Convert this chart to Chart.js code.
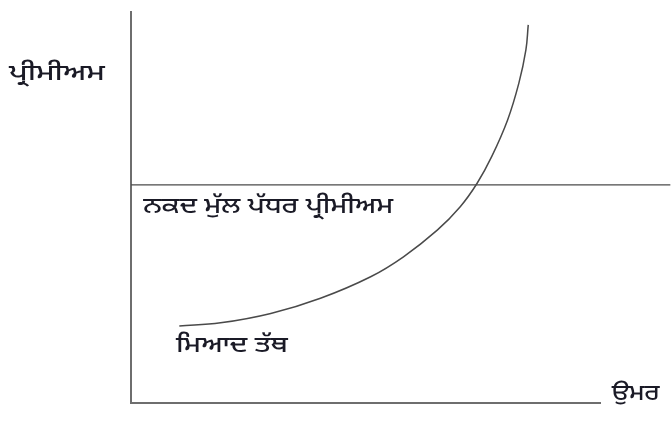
<!DOCTYPE html>
<html>
<head>
<meta charset="utf-8">
<script src="https://cdn.jsdelivr.net/npm/chart.js@4"></script>
<style>
  html, body { margin: 0; padding: 0; background: #fff; }
  #wrap { width: 672px; height: 421px; }
</style>
</head>
<body>
<div id="wrap"><canvas id="chart"></canvas></div>
<script>
// term premium curve (age -> premium)
const curveAge = [10.3, 19.1, 29.8, 40.4, 51.1, 58.1, 65.3, 70.2, 73.8, 76.9, 80.3, 82.7, 84.2, 84.7]
const curvePremium = [19.7, 20.5, 22.9, 26.8, 32.3, 37.4, 44.2, 50.2, 56.2, 63.0, 72.4, 81.8, 90.3, 96.7]

// cash value level premium (runs past the end of the age axis)
const levelAge = [0, 115]
const levelPremium = [55.8, 55.8]

// axis ranges
const axisAgeMax = 100
const axisPremiumMax = 100

const labels = ['ਪ੍ਰੀਮੀਅਮ', 'ਨਕਦ ਮੁੱਲ ਪੱਧਰ ਪ੍ਰੀਮੀਅਮ', 'ਮਿਆਦ ਤੱਥ', 'ਉਮਰ']

function toPoints(xs, ys) {
  let pts = []
  for (let i = 0; i < xs.length; i++) {
    pts.push({x: xs[i], y: ys[i]})
  }
  return pts
}

// draw text stretched to a given width (reference font is a wide one)
function wideText(ctx, txt, x, y, w) {
  let m = ctx.measureText(txt).width
  ctx.save()
  ctx.translate(x, y)
  ctx.scale(w / m, 1)
  ctx.fillText(txt, 0, 0)
  ctx.restore()
}

const textPlugin = {
  id: 'texts',
  afterDatasetsDraw(chart) {
    const ctx = chart.ctx
    const xs = chart.scales.x
    const ys = chart.scales.y
    ctx.save()
    ctx.fillStyle = '#1a1a26'
    ctx.font = '500 22px "Noto Sans Gurmukhi", "Raavi", "Lohit Gurmukhi", sans-serif'
    ctx.textBaseline = 'middle'
    ctx.textAlign = 'left'
    wideText(ctx, labels[0], 9, ys.getPixelForValue(83.6), 96)
    wideText(ctx, labels[1], xs.getPixelForValue(2.6), ys.getPixelForValue(49.6), 250)
    wideText(ctx, labels[2], xs.getPixelForValue(9.6), ys.getPixelForValue(14), 112)
    wideText(ctx, labels[3], xs.getPixelForValue(102.5), ys.getPixelForValue(1.8), 48)
    ctx.restore()
  }
}

const data = {
  datasets: [{
    label: 'term',
    data: toPoints(curveAge, curvePremium),
    borderColor: '#4a4a4a',
    borderWidth: 1.5,
    pointRadius: 0,
    tension: 0.4,
    fill: false,
  }, {
    label: 'level',
    data: toPoints(levelAge, levelPremium),
    borderColor: '#4a4a4a',
    borderWidth: 1.3,
    pointRadius: 0,
    fill: false,
    clip: false,
  }]
}

const config = {
  type: 'scatter',
  data: data,
  options: {
    responsive: true,
    maintainAspectRatio: false,
    animation: false,
    showLine: true,
    layout: { padding: { left: 123, top: 12, right: 72, bottom: 10 } },
    plugins: {
      legend: { display: false },
      tooltip: { enabled: false },
    },
    scales: {
      x: {
        type: 'linear',
        min: 0,
        max: axisAgeMax,
        ticks: { display: false },
        grid: { display: false },
        border: { display: true, color: '#6e6e6e', width: 2 },
      },
      y: {
        type: 'linear',
        min: 0,
        max: axisPremiumMax,
        ticks: { display: false },
        grid: { display: false },
        border: { display: true, color: '#6e6e6e', width: 2 },
      }
    }
  },
  plugins: [textPlugin]
}

const myChart = new Chart(document.getElementById('chart'), config)
</script>
</body>
</html>
